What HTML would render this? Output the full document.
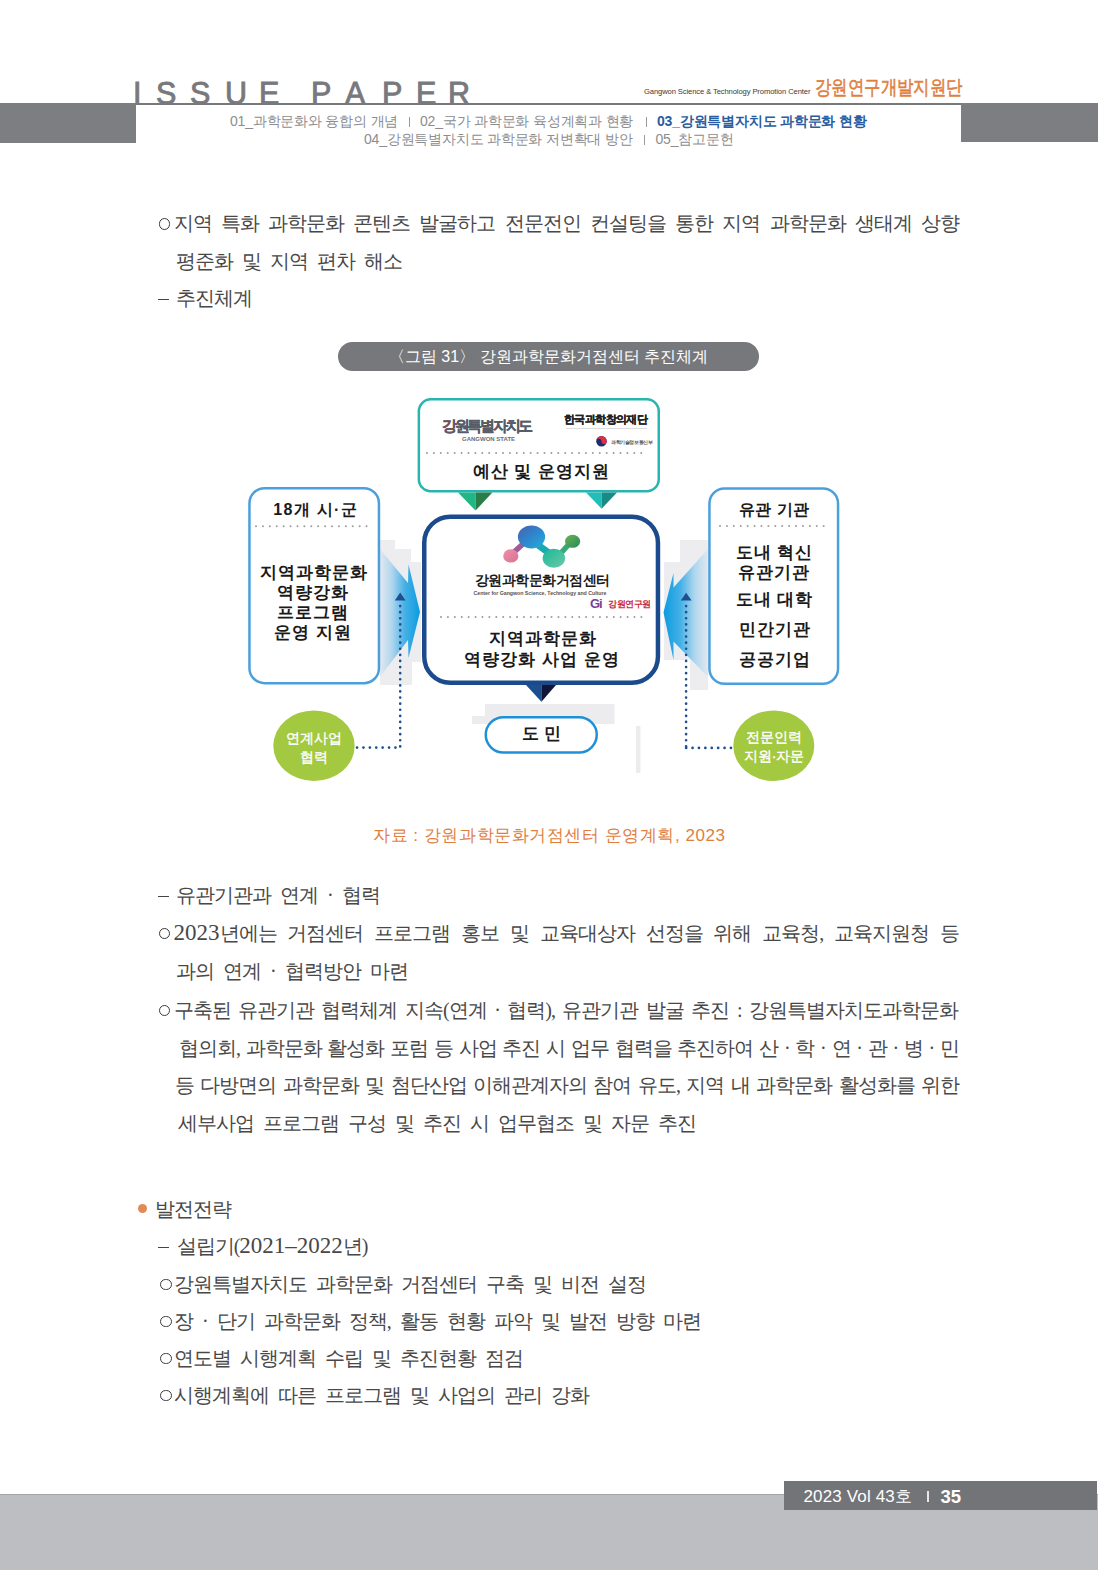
<!DOCTYPE html>
<html><head><meta charset="utf-8">
<style>
html,body{margin:0;padding:0;background:#fff;}
body{width:1098px;height:1570px;position:relative;overflow:hidden;font-family:"Liberation Serif",serif;}
.a{position:absolute;white-space:nowrap;}
.hd{font-family:"Liberation Sans",sans-serif;color:#78797d;font-size:30.5px;line-height:30px;top:78px;-webkit-text-stroke:0.9px #78797d;}
.nav{font-family:"Liberation Sans",sans-serif;font-size:14px;line-height:16px;color:#8c8d90;letter-spacing:-0.2px;}
.sep{width:1.2px;height:10px;background:#9a9a9d;}
.t{font-family:"Liberation Serif",serif;font-size:20px;line-height:24px;color:#484848;letter-spacing:-1px;word-spacing:5px;}
.j{word-spacing:0;}
.oc{position:absolute;width:9.4px;height:9.4px;border:1.1px solid #3a3a3a;border-radius:50%;}
.dsh{position:absolute;width:11px;height:1.1px;background:#444;}
.dg{font-size:23px;letter-spacing:0;}
.j{text-align:justify;text-align-last:justify;}
.sv{font-family:"Liberation Sans",sans-serif;}
</style></head><body>

<!-- header -->
<div class="a" style="left:0;top:103px;width:136px;height:40px;background:#7d7e82"></div>
<div class="a" style="left:136px;top:103px;width:825px;height:2px;background:#77787c"></div>
<div class="a" style="left:961px;top:103px;width:137px;height:39px;background:#7d7e82"></div>
<div class="a hd" style="left:133px">I</div>
<div class="a hd" style="left:156px">S</div>
<div class="a hd" style="left:190px">S</div>
<div class="a hd" style="left:225px">U</div>
<div class="a hd" style="left:259px">E</div>
<div class="a hd" style="left:311px">P</div>
<div class="a hd" style="left:345px">A</div>
<div class="a hd" style="left:382px">P</div>
<div class="a hd" style="left:416px">E</div>
<div class="a hd" style="left:448px">R</div>
<div class="a" style="left:644px;top:86px;font-family:'Liberation Sans',sans-serif;font-size:7.6px;line-height:12px;color:#3a3a3a;letter-spacing:-0.1px">Gangwon Science &amp; Technology Promotion Center</div>
<div class="a" style="left:815px;top:74px;-webkit-text-stroke:0.55px #e07e3e;font-family:'Liberation Sans',sans-serif;font-size:20px;line-height:26px;color:#e07e3e;transform:scaleX(0.82);transform-origin:0 0">강원연구개발지원단</div>
<div class="a nav" style="left:230px;top:113px">01_과학문화와 융합의 개념</div>
<div class="a nav sep" style="left:408.5px;top:117px"></div>
<div class="a nav" style="left:420px;top:113px">02_국가 과학문화 육성계획과 현황</div>
<div class="a nav sep" style="left:645.5px;top:117px"></div>
<div class="a nav" style="left:657px;top:113px;color:#2a5d9f;font-weight:bold">03_강원특별자치도 과학문화 현황</div>
<div class="a nav" style="left:364px;top:131px">04_강원특별자치도 과학문화 저변확대 방안</div>
<div class="a nav sep" style="left:643.5px;top:135px"></div>
<div class="a nav" style="left:655.5px;top:131px">05_참고문헌</div>
<!-- BODY START -->
<div class="oc" style="left:159px;top:218.2px"></div>
<div class="a t j" style="left:173.5px;top:211.2px;width:785.5px">지역 특화 과학문화 콘텐츠 발굴하고 전문전인 컨설팅을 통한 지역 과학문화 생태계 상향</div>
<div class="a t" style="left:176.0px;top:249.0px">평준화 및 지역 편차 해소</div>
<div class="dsh" style="left:158px;top:298.5px"></div>
<div class="a t" style="left:176.0px;top:285.5px">추진체계</div>
<div class="dsh" style="left:158px;top:896.0px"></div>
<div class="a t" style="left:176.0px;top:883.0px">유관기관과 연계 · 협력</div>
<div class="oc" style="left:159px;top:928.0px"></div>
<div class="a t j" style="left:173.5px;top:921.0px;width:785.5px"><span class="dg">2023</span>년에는 거점센터 프로그램 홍보 및 교육대상자 선정을 위해 교육청, 교육지원청 등</div>
<div class="a t" style="left:176.0px;top:959.0px">과의 연계 · 협력방안 마련</div>
<div class="oc" style="left:159px;top:1005.0px"></div>
<div class="a t j" style="left:173.5px;top:998.0px;width:784.5px">구축된 유관기관 협력체계 지속(연계 · 협력), 유관기관 발굴 추진 : 강원특별자치도과학문화</div>
<div class="a t j" style="left:179.0px;top:1036.4px;width:780.0px">협의회, 과학문화 활성화 포럼 등 사업 추진 시 업무 협력을 추진하여 산 · 학 · 연 · 관 · 병 · 민</div>
<div class="a t j" style="left:175.0px;top:1073.2px;width:784.0px">등 다방면의 과학문화 및 첨단산업 이해관계자의 참여 유도, 지역 내 과학문화 활성화를 위한</div>
<div class="a t" style="left:177.6px;top:1111.0px">세부사업 프로그램 구성 및 추진 시 업무협조 및 자문 추진</div>
<div class="a t" style="left:155.0px;top:1197.0px">발전전략</div>
<div class="dsh" style="left:158px;top:1247.4px"></div>
<div class="a t" style="left:176.7px;top:1234.4px">설립기(<span class="dg">2021–2022</span>년)</div>
<div class="oc" style="left:160.4px;top:1279.0px"></div>
<div class="a t" style="left:174.0px;top:1272.0px">강원특별자치도 과학문화 거점센터 구축 및 비전 설정</div>
<div class="oc" style="left:160.4px;top:1316.0px"></div>
<div class="a t" style="left:174.0px;top:1309.0px">장 · 단기 과학문화 정책, 활동 현황 파악 및 발전 방향 마련</div>
<div class="oc" style="left:160.4px;top:1352.7px"></div>
<div class="a t" style="left:174.0px;top:1345.7px">연도별 시행계획 수립 및 추진현황 점검</div>
<div class="oc" style="left:160.4px;top:1389.6px"></div>
<div class="a t" style="left:174.0px;top:1382.6px">시행계획에 따른 프로그램 및 사업의 관리 강화</div>
<!-- BODY END -->
<!-- caption pill -->
<div class="a" style="left:338px;top:342px;width:421px;height:29px;border-radius:15px;background:#77787c"></div>
<div class="a" style="left:338px;top:342px;width:421px;height:29px;line-height:29px;text-align:center;color:#fff;font-family:'Liberation Sans',sans-serif;font-size:16px">〈그림 31〉 강원과학문화거점센터 추진체계</div>

<!-- diagram -->
<svg class="a" style="left:0;top:0" width="1098" height="1570" viewBox="0 0 1098 1570">
<defs>
<linearGradient id="gl" x1="0" x2="1" y1="0" y2="0">
<stop offset="0" stop-color="#e2e8ee"/><stop offset="0.3" stop-color="#b0d6ee"/><stop offset="0.62" stop-color="#45b0e6"/><stop offset="1" stop-color="#0a9ce0"/>
</linearGradient>
<linearGradient id="gr" x1="1" x2="0" y1="0" y2="0">
<stop offset="0" stop-color="#e2e8ee"/><stop offset="0.3" stop-color="#b0d6ee"/><stop offset="0.62" stop-color="#45b0e6"/><stop offset="1" stop-color="#0a9ce0"/>
</linearGradient>
<radialGradient id="mb" cx="0.4" cy="0.4" r="0.7"><stop offset="0" stop-color="#3fb0d8"/><stop offset="1" stop-color="#3a5fb8"/></radialGradient>
<radialGradient id="mt" cx="0.5" cy="0.5" r="0.6"><stop offset="0" stop-color="#5fd4b0"/><stop offset="1" stop-color="#2ab09a"/></radialGradient>
</defs>
<!-- gray artifacts behind arrows -->
<path d="M380 540 H395 V549 H411 V562 H421 V662 H412 V685 H380 Z" fill="#ededf0"/>
<path d="M664 562 H680 V540 H708 V690 H690 V660 H664 Z" fill="#ededf0"/>
<!-- arrows -->
<polygon points="380,549 408,583 408.5,564.5 420,612 408.5,658 408,640 380,677" fill="url(#gl)"/>
<polygon points="708,549 673.5,587.5 673.5,573 663.5,612.5 673.5,660 673.5,641.5 708,677" fill="url(#gr)"/>
<!-- top box -->
<rect x="418.85" y="399.35" width="239.9" height="91.8" rx="12" fill="#fff" stroke="#2ab4af" stroke-width="2.5"/>
<line x1="427" y1="453" x2="648" y2="453" stroke="#9c9c9c" stroke-width="2" stroke-dasharray="0.01 6.9" stroke-linecap="round"/>
<polygon points="458,492.4 475.5,492.4 475.5,510.6" fill="#21b686"/>
<polygon points="475.5,492.4 492.4,492.4 475.5,510.6" fill="#2a7c48"/>
<polygon points="586,492.4 601.6,492.4 601.6,508.7" fill="#22bdb6"/>
<polygon points="601.6,492.4 617,492.4 601.6,508.7" fill="#198a85"/>
<!-- center box -->
<rect x="424.25" y="516.65" width="233.7" height="166.1" rx="26" fill="#fff" stroke="#1b4b8c" stroke-width="4.5"/>
<line x1="441" y1="617" x2="648" y2="617" stroke="#9c9c9c" stroke-width="2" stroke-dasharray="0.01 6.9" stroke-linecap="round"/>
<polygon points="526,684.9 541.4,684.9 541.4,701.8" fill="#1b4f90"/>
<polygon points="541.4,684.9 556,684.9 541.4,701.8" fill="#111538"/>
<!-- side boxes -->
<rect x="249.45" y="488.15" width="129.5" height="195" rx="15" fill="#fff" stroke="#4aa0dc" stroke-width="2.5"/>
<line x1="256" y1="526.2" x2="367" y2="526.2" stroke="#9c9c9c" stroke-width="2" stroke-dasharray="0.01 6.9" stroke-linecap="round"/>
<rect x="709.45" y="488.55" width="128.6" height="195.2" rx="15" fill="#fff" stroke="#4aa0dc" stroke-width="2.5"/>
<line x1="720" y1="526" x2="824" y2="526" stroke="#9c9c9c" stroke-width="2" stroke-dasharray="0.01 6.9" stroke-linecap="round"/>
<!-- smudges -->
<path d="M485 704 H614.5 V724 H472 V716 H485 Z" fill="#ececef"/>
<rect x="636" y="726" width="4.4" height="47" fill="#ececef"/>
<!-- do-min pill -->
<rect x="485.75" y="717.25" width="111" height="35.2" rx="17.6" fill="#fff" stroke="#1e90d8" stroke-width="2.5"/>
<!-- dotted connectors -->
<polygon points="400.2,592.5 394.8,600.5 405.6,600.5" fill="#1f4f8f"/>
<line x1="400.2" y1="606" x2="400.2" y2="748" stroke="#1f4f8f" stroke-width="2.6" stroke-dasharray="0.1 6" stroke-linecap="round"/>
<line x1="357" y1="747.6" x2="400.2" y2="747.6" stroke="#1f4f8f" stroke-width="2.6" stroke-dasharray="0.1 6.3" stroke-linecap="round"/>
<polygon points="686.1,592.8 680.8,600.4 691.6,600.4" fill="#1f4f8f"/>
<line x1="686.1" y1="606" x2="686.1" y2="748" stroke="#1f4f8f" stroke-width="2.6" stroke-dasharray="0.1 6" stroke-linecap="round"/>
<line x1="686.1" y1="747.9" x2="731" y2="747.9" stroke="#1f4f8f" stroke-width="2.6" stroke-dasharray="0.1 6.3" stroke-linecap="round"/>
<!-- green circles -->
<ellipse cx="314" cy="745.7" rx="40.7" ry="35.3" fill="#a3c940"/>
<ellipse cx="773.8" cy="745.7" rx="40.5" ry="35.3" fill="#a3c940"/>
<!-- molecule logo -->
<defs>
<linearGradient id="mb2" x1="0" y1="0" x2="1" y2="1"><stop offset="0" stop-color="#4a5fb0"/><stop offset="0.5" stop-color="#2f86cc"/><stop offset="1" stop-color="#20b0dc"/></linearGradient>
<linearGradient id="mt2" x1="0" y1="0" x2="1" y2="1"><stop offset="0" stop-color="#18b896"/><stop offset="1" stop-color="#6cc9a8"/></linearGradient>
<linearGradient id="mg2" x1="0" y1="0" x2="1" y2="1"><stop offset="0" stop-color="#6cb24e"/><stop offset="1" stop-color="#268a62"/></linearGradient>
<linearGradient id="mp2" x1="0" y1="0" x2="1" y2="1"><stop offset="0" stop-color="#ee8fae"/><stop offset="1" stop-color="#d9728f"/></linearGradient>
</defs>
<line x1="513" y1="553" x2="524" y2="543" stroke="#a35a98" stroke-width="5.5"/>
<line x1="538" y1="545" x2="549" y2="553" stroke="#1aa9ae" stroke-width="7"/>
<line x1="561" y1="553" x2="570" y2="543" stroke="#3aa878" stroke-width="5.5"/>
<ellipse cx="510.8" cy="555.9" rx="7.6" ry="6.7" fill="url(#mp2)"/>
<ellipse cx="531.5" cy="536.9" rx="13.6" ry="11.5" fill="url(#mb2)"/>
<ellipse cx="553.9" cy="558.2" rx="11.2" ry="9.5" fill="url(#mt2)"/>
<ellipse cx="572.6" cy="541.3" rx="7.6" ry="6.5" fill="url(#mg2)"/>
<!-- gov circle -->
<circle cx="601.5" cy="441.3" r="5.3" fill="#1f2c6b"/>
<path d="M596.2 441.3 A5.3 5.3 0 0 1 606.8 441.3 A2.65 2.65 0 0 1 601.5 441.3 A2.65 2.65 0 0 0 596.2 441.3Z" fill="#d9314a"/>
</svg>


<!-- diagram text -->
<style>
.d{position:absolute;white-space:nowrap;font-family:"Liberation Sans",sans-serif;text-align:center;color:#1a1a1a;font-weight:bold;}
</style>
<div class="d" style="left:442px;top:416px;font-size:15px;line-height:20px;color:#585c66;letter-spacing:-2.3px;text-align:left;-webkit-text-stroke:0.3px #585c66"><span style="color:#d8283e">강</span>원특별자치도</div>
<div class="d" style="left:462px;top:435px;font-size:6px;line-height:8px;color:#6a6d75;text-align:left">GANGWON STATE</div>
<div class="d" style="left:564px;top:412px;font-size:11px;line-height:15px;color:#222;font-family:'Liberation Serif',serif;letter-spacing:-0.6px;text-align:left;-webkit-text-stroke:0.3px #222">한국과학창의재단</div>
<div class="a" style="left:566px;top:428px;width:81px;height:1px;background:#dcdcde"></div>
<div class="d" style="left:611px;top:438px;font-size:5px;line-height:8px;color:#555;font-weight:bold;letter-spacing:-0.4px;text-align:left">과학기술정보통신부</div>
<div class="d" style="left:421px;top:461px;width:240px;font-size:17px;line-height:22px;letter-spacing:1px;text-indent:1px">예산 및 운영지원</div>

<div class="d" style="left:249px;top:500px;width:132px;font-size:16px;line-height:20px;letter-spacing:1.3px;text-indent:1.3px">18개 시·군</div>
<div class="d" style="left:247px;top:563px;width:132px;font-size:17px;line-height:20px;letter-spacing:1px;text-indent:1px">지역과학문화<br>역량강화<br>프로그램<br>운영 지원</div>

<div class="d" style="left:709px;top:500px;width:130px;font-size:16px;line-height:20px;letter-spacing:0.6px;text-indent:0.6px">유관 기관</div>
<div class="d" style="left:709px;top:543px;width:130px;font-size:17px;line-height:20px;letter-spacing:1px;text-indent:1px">도내 혁신<br>유관기관</div>
<div class="d" style="left:709px;top:590px;width:130px;font-size:17px;line-height:20px;letter-spacing:1px;text-indent:1px">도내 대학</div>
<div class="d" style="left:709px;top:620px;width:130px;font-size:17px;line-height:20px;letter-spacing:1px;text-indent:1px">민간기관</div>
<div class="d" style="left:709px;top:650px;width:130px;font-size:17px;line-height:20px;letter-spacing:1px;text-indent:1px">공공기업</div>

<div class="d" style="left:424px;top:571px;width:236px;font-size:14px;line-height:18px;letter-spacing:-0.5px">강원과학문화거점센터</div>
<div class="a" style="left:473.5px;top:589.5px;font-family:'Liberation Sans',sans-serif;font-size:5.25px;line-height:7px;font-weight:bold;color:#555;letter-spacing:-0.03px;white-space:nowrap">Center for Gangwon Science, Technology and Culture</div>
<div class="d" style="left:590px;top:597px;font-size:13px;line-height:14px;color:#7c3f96;text-align:left;letter-spacing:-1px">Gi</div>
<div class="d" style="left:608px;top:598px;font-size:9px;line-height:12px;color:#c8283e;text-align:left;letter-spacing:-0.5px">강원연구원</div>
<div class="d" style="left:424px;top:628px;width:236px;font-size:17px;line-height:21px;letter-spacing:1px;text-indent:1px">지역과학문화<br>역량강화 사업 운영</div>

<div class="d" style="left:485px;top:724px;width:113px;font-size:17px;line-height:20px">도 민</div>

<div class="d" style="left:273px;top:729px;width:82px;font-size:14px;line-height:19px;color:#fff;font-weight:normal;-webkit-text-stroke:0.35px #fff">연계사업<br>협력</div>
<div class="d" style="left:733px;top:728px;width:82px;font-size:14px;line-height:19px;color:#fff;font-weight:normal;-webkit-text-stroke:0.35px #fff">전문인력<br>지원·자문</div>

<!-- source -->
<div class="a" style="left:373px;top:825px;font-family:'Liberation Sans',sans-serif;font-size:17px;line-height:22px;color:#e07e3e;letter-spacing:0.55px">자료 : 강원과학문화거점센터 운영계획, 2023</div>

<div class="a" style="left:138px;top:1204px;width:9px;height:9px;border-radius:50%;background:#e08a55"></div>
<!-- footer -->
<div class="a" style="left:0;top:1494px;width:1098px;height:76px;background:#bdbec2;border-top:1px solid #a3a4a7"></div>
<div class="a" style="left:784px;top:1481px;width:313px;height:29px;background:#737478"></div>
<div class="a" style="left:803.5px;top:1486px;font-family:'Liberation Sans',sans-serif;font-size:17px;line-height:22px;color:#fff;letter-spacing:0.15px">2023 Vol 43호</div>
<div class="a" style="left:927.4px;top:1491px;width:1.3px;height:11px;background:#e8e8ea"></div>
<div class="a" style="left:940.5px;top:1485.5px;font-family:'Liberation Sans',sans-serif;font-size:18.5px;line-height:22px;color:#fff;font-weight:bold">35</div>

</body></html>
